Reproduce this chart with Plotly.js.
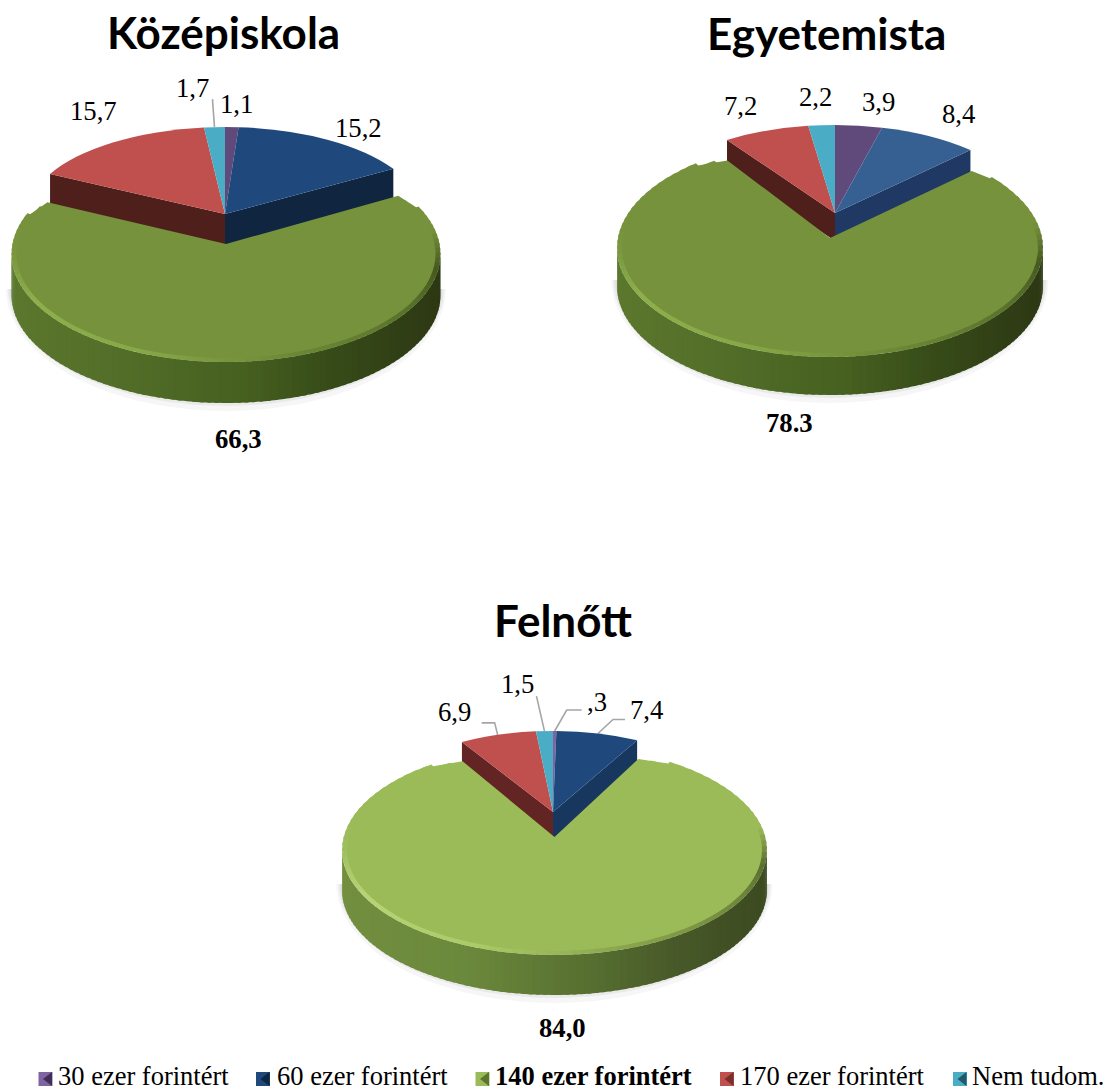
<!DOCTYPE html>
<html><head><meta charset="utf-8">
<script src="https://cdn.plot.ly/plotly-3.0.1.min.js"></script>
<style>html,body{margin:0;padding:0;background:#fff;overflow:hidden}</style>
</head><body><div id="chart" style="width:1107px;height:1090px"></div>
<script>
// ---------- data ----------
const categories = ['30 ezer forintért','60 ezer forintért','140 ezer forintért','170 ezer forintért','Nem tudom.'];
const panelTitles = ['Középiskola','Egyetemista','Felnőtt'];
const kozepiskola = [1.1,15.2,66.3,15.7,1.7];
const egyetemista = [3.9,8.4,78.3,7.2,2.2];
const felnott     = [0.3,7.4,84.0,6.9,1.5];
const kozepLabels = ['1,1','15,2','66,3','15,7','1,7'];
const egyetLabels = ['3,9','8,4','78.3','7,2','2,2'];
const felnoLabels = [',3','7,4','84,0','6,9','1,5'];

// ---------- layout / style ----------
const W=1107,H=1090;
const serif='"Liberation Serif","Times New Roman",serif';
const panels=[
 {values:kozepiskola,labels:kozepLabels,title:panelTitles[0],titleXY:[223,32],
  front:{cx:226,cy:254,rx:214.5,ry:108,h:41},back:{cx:225,cy:214,rx:197,ry:87},apexY:244,
  cornerShift:{right:[-11,-2],left:[12,-2]},
  labelXY:[[236,104],[358,128],[238,439],[93,111],[192,88]],
  leaders:{4:[[-2,-28]]},
  colors:['#604a7b','#1f497d','#76923c','#c0504d','#4bacc6'],
  walls:{1:'#10253f',3:'#4f1f1c'},
  wallStops:[[0,'#5c782e'],[.3,'#506c27'],[.55,'#466020'],[.75,'#374b18'],[1,'#2d3814']],
  rimStops:[[0,'#76923c'],[.08,'#7a973e'],[.2,'#8db04c'],[.4,'#86a747'],[.6,'#6c8735'],[.8,'#56702a'],[.9,'#46591f'],[1,'#76923c']]},
 {values:egyetemista,labels:egyetLabels,title:panelTitles[1],titleXY:[826,33],
  front:{cx:830,cy:248,rx:213,ry:109,h:38},back:{cx:835,cy:213,rx:194,ry:88},apexY:238,
  cornerShift:{right:[-7,1],left:[16,3]},
  labelXY:[[878,102],[958,114],[789,423],[740,106],[815,97]],
  leaders:{},
  colors:['#604a7b','#366092','#76923c','#c0504d','#4bacc6'],
  walls:{1:'#1f3864',3:'#4f1f1c'},
  wallStops:[[0,'#5c782e'],[.3,'#506c27'],[.55,'#466020'],[.75,'#374b18'],[1,'#2d3814']],
  rimStops:[[0,'#76923c'],[.08,'#7a973e'],[.2,'#8db04c'],[.4,'#86a747'],[.6,'#6c8735'],[.8,'#56702a'],[.9,'#46591f'],[1,'#76923c']]},
 {values:felnott,labels:felnoLabels,title:panelTitles[2],titleXY:[563,620],
  front:{cx:554.5,cy:850,rx:212.5,ry:105,h:40},back:{cx:553,cy:812,rx:181,ry:81},apexY:837,
  cornerShift:{right:[-15,2],left:[15,2]},
  labelXY:[[597,702],[646,710],[562,1028],[454,712],[517,684]],
  leaders:{0:[[12,-21],[27,-21]],1:[[15,-14],[27,-14]],3:[[-3,-12],[-16,-12]],4:[[-8,-35]]},
  colors:['#8064a2','#1f497d','#9bbb59','#c0504d','#4bacc6'],
  walls:{1:'#17375e',3:'#632523'},
  wallStops:[[0,'#728f3f'],[.3,'#6b893c'],[.6,'#566e30'],[.8,'#475829'],[1,'#3c4a20']],
  rimStops:[[0,'#9bbb59'],[.08,'#a0bf60'],[.2,'#b7d574'],[.4,'#aacb68'],[.6,'#8aa54d'],[.8,'#6f873c'],[.9,'#5a6f30'],[1,'#9bbb59']]}
];
const bevelX=5,bevelY=4,STRIPS=90,RIM=90,rimInset=0.09;
const legendX=[45.5,263,482.5,727,960],legendTextX=[57,276,494,739,971],legendY=1079,legendTextY=1076;
const legendDark=['#3f2f57','#10253f','#5c7430','#7a2f2c','#215968'];
const labelSize=26.7,legendSize=26.5,titleSize=44;

// ---------- helpers ----------
const hex=c=>[1,3,5].map(i=>parseInt(c.slice(i,i+2),16));
function ramp(stops,t){
  for(let i=1;i<stops.length;i++) if(t<=stops[i][0]){
    const a=stops[i-1],b=stops[i],u=(t-a[0])/(b[0]-a[0]);
    const A=hex(a[1]),B=hex(b[1]);
    return 'rgb('+A.map((v,k)=>Math.round(v+(B[k]-v)*u)).join(',')+')';
  }
  return stops[stops.length-1][1];
}
const pt=(e,th,dy=0)=>[e.cx+e.rx*Math.sin(th),e.cy-e.ry*Math.cos(th)+dy];
const poly=(pts,color)=>({type:'scatter',mode:'lines',x:pts.map(p=>p[0]).concat(pts[0][0]),y:pts.map(p=>p[1]).concat(pts[0][1]),
  fill:'toself',fillcolor:color,line:{color:color,width:0},hoverinfo:'skip',showlegend:false,xaxis:'x',yaxis:'y'});
function bounds(vals){
  const s=vals.reduce((a,b)=>a+b,0);let c=0;
  return vals.map(v=>{const a=c/s*2*Math.PI;c+=v;return [a,c/s*2*Math.PI];});
}

const traces=[],pies=[],annotations=[];
panels.forEach(p=>{
  const f=p.front,b=p.back,bd=bounds(p.values),[g0,g1]=bd[2];
  // soft ground shadow
  [[14,14,'rgba(0,0,0,0.035)'],[9,9,'rgba(0,0,0,0.05)'],[4,5,'rgba(0,0,0,0.06)']].forEach(([ex,ey,col])=>{
    const pts=[];for(let i=0;i<=60;i++){const t=Math.PI/2+i/60*Math.PI;pts.push([f.cx+(f.rx+ex*0.4)*Math.sin(t),f.cy+f.h-6+(f.ry+ey)*-Math.cos(t)]);}
    traces.push(poly(pts,col));
  });
  // walls of the rear slices, built from the slice boundaries
  const wh=p.apexY-b.cy+3;
  const c1=pt(b,bd[1][1]),c3=pt(b,bd[3][0]);
  traces.push(poly([[b.cx,b.cy],c1,[c1[0],c1[1]+wh],[b.cx,b.cy+wh]],p.walls[1]));
  traces.push(poly([[b.cx,b.cy],c3,[c3[0],c3[1]+wh],[b.cx,b.cy+wh]],p.walls[3]));
  // front wall of the large slice
  for(let i=0;i<STRIPS;i++){
    const a=Math.PI/2+i/STRIPS*Math.PI,e=Math.PI/2+(i+1.5)/STRIPS*Math.PI;
    const t=(pt(f,a)[0]-(f.cx-f.rx))/(2*f.rx);
    traces.push(poly([pt(f,a),pt(f,e),pt(f,e,f.h),pt(f,a,f.h)],ramp(p.wallStops,t)));
  }
  // bevelled rim of the large slice
  const inner={cx:f.cx,cy:f.cy,rx:f.rx-bevelX-1,ry:f.ry-bevelY-1};
  const r0=g0+rimInset,r1=g1-rimInset;
  for(let i=0;i<RIM;i++){
    const a=r0+i/RIM*(r1-r0),e=Math.min(r1,r0+(i+1.5)/RIM*(r1-r0));
    let col=p.colors[2];
    if(a>=Math.PI/2-.25&&a<=1.5*Math.PI+.25) col=ramp(p.rimStops,1-(a-(Math.PI/2-.25))/(Math.PI+.5));
    traces.push(poly([pt(f,a),pt(f,e),pt(inner,e),pt(inner,a)],col));
  }
  // top-face patch: perspective lifts the apex and the rear corners of the large slice
  const cr=pt(f,g0),cl=pt(f,g1);
  traces.push(poly([[f.cx,p.apexY],[cr[0]+p.cornerShift.right[0],cr[1]+p.cornerShift.right[1]],pt(f,g0+.15),[f.cx,f.cy+8],pt(f,g1-.15),
    [cl[0]+p.cornerShift.left[0],cl[1]+p.cornerShift.left[1]]],p.colors[2]));
  // pie traces: rear slices, then the large slice
  const mk=(cx,cy,R,k,colors)=>{
    pies.push({cy,k});
    traces.push({type:'pie',values:p.values,labels:categories,sort:false,direction:'clockwise',rotation:0,
      textinfo:'none',hoverinfo:'label+value',showlegend:false,
      marker:{colors,line:{width:0}},
      domain:{x:[(cx-R)/W,(cx+R)/W],y:[1-(cy+R)/H,1-(cy-R)/H]}});
  };
  mk(b.cx,b.cy,b.rx,b.ry/b.rx,p.colors.map((c,i)=>i===2?'rgba(0,0,0,0)':c));
  mk(f.cx,f.cy,f.rx-bevelX,(f.ry-bevelY)/(f.rx-bevelX),p.colors.map((c,i)=>i===2?c:'rgba(0,0,0,0)'));

  // leader lines start at the slice's outer mid point
  Object.keys(p.leaders).forEach(k=>{
    const i=+k,m=pt(b,(bd[i][0]+bd[i][1])/2);
    const pts=[m].concat(p.leaders[k].map(o=>[m[0]+o[0],m[1]+o[1]]));
    traces.push({type:'scatter',mode:'lines',x:pts.map(q=>q[0]),y:pts.map(q=>q[1]),line:{color:'#a6a6a6',width:1.6},hoverinfo:'skip',showlegend:false});
  });
  // texts
  annotations.push({x:p.titleXY[0],y:p.titleXY[1],xref:'x',yref:'y',showarrow:false,text:'<b>'+p.title+'</b>',
    font:{family:'Lato,"Noto Sans",sans-serif',size:titleSize,color:'#000'},xanchor:'center',yanchor:'middle'});
  p.labels.forEach((t,i)=>annotations.push({x:p.labelXY[i][0],y:p.labelXY[i][1],xref:'x',yref:'y',showarrow:false,
    text:i===2?'<b>'+t+'</b>':t,font:{family:serif,size:labelSize,color:'#000'},xanchor:'center',yanchor:'middle'}));
});
// legend
const legendColors=panels[2].colors;
traces.push({type:'scatter',mode:'markers',x:legendX,y:legendX.map(()=>legendY),hoverinfo:'skip',showlegend:false,
  marker:{symbol:'square',size:14,color:legendColors,line:{width:0}}});
traces.push({type:'scatter',mode:'markers',x:legendX.map(v=>v+3.5),y:legendX.map(()=>legendY),hoverinfo:'skip',showlegend:false,
  marker:{symbol:'triangle-left',size:12,color:legendDark,line:{width:0}}});
categories.forEach((c,i)=>annotations.push({x:legendTextX[i],y:legendTextY,xref:'x',yref:'y',showarrow:false,xanchor:'left',yanchor:'middle',borderpad:0,
  text:i===2?'<b>'+c+'</b>':c,font:{family:serif,size:legendSize,color:'#000'}}));

const layout={width:W,height:H,margin:{l:0,r:0,t:0,b:0},paper_bgcolor:'#fff',plot_bgcolor:'#fff',showlegend:false,
  xaxis:{range:[0,W],visible:false,fixedrange:true},yaxis:{range:[H,0],visible:false,fixedrange:true},annotations};

Plotly.newPlot('chart',traces,layout,{displayModeBar:false,responsive:false}).then(gd=>{
  // tilt each pie into the perspective of the reference
  gd.querySelectorAll('.pielayer .trace').forEach((g,i)=>{
    const s=pies[i];
    g.setAttribute('transform','matrix(1 0 0 '+s.k+' 0 '+(s.cy*(1-s.k))+')');
  });
});
</script></body></html>
